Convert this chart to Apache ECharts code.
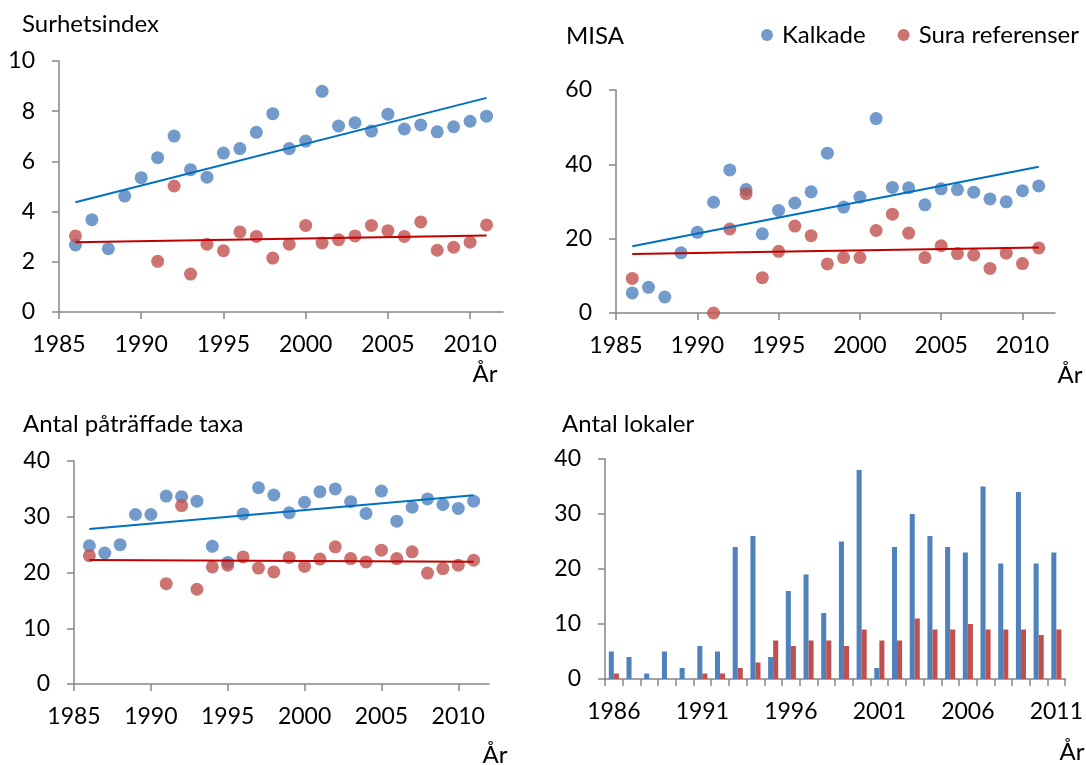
<!DOCTYPE html>
<html><head><meta charset="utf-8">
<script src="https://cdn.jsdelivr.net/npm/echarts@6/dist/echarts.min.js"></script>
<style>html,body{margin:0;padding:0;background:#fff}#c{width:1086px;height:765px}</style>
</head><body><div id="c"></div>
<script>
// ---- data ----
const years = [1986,1987,1988,1989,1990,1991,1992,1993,1994,1995,1996,1997,1998,1999,2000,2001,2002,2003,2004,2005,2006,2007,2008,2009,2010,2011];
const surhetKalkade = [2.67,3.68,2.52,4.62,5.35,6.15,7.01,5.67,5.37,6.33,6.51,7.16,7.9,6.51,6.81,8.79,7.41,7.54,7.21,7.88,7.29,7.45,7.18,7.38,7.6,7.8];
const surhetSura    = [3.03,null,null,null,null,2.02,5.02,1.51,2.7,2.44,3.19,3.01,2.15,2.7,3.45,2.75,2.88,3.03,3.45,3.24,3.01,3.59,2.46,2.58,2.78,3.47];
const misaKalkade = [5.4,6.9,4.3,16.2,21.7,29.8,38.5,33.2,21.3,27.6,29.6,32.6,43.0,28.5,31.2,52.3,33.8,33.7,29.1,33.4,33.2,32.5,30.7,29.9,32.9,34.2];
const misaSura    = [9.3,null,null,null,null,0,22.6,32.1,9.5,16.6,23.4,20.8,13.2,14.9,14.9,22.2,26.6,21.5,14.9,18.1,16.0,15.6,12.0,16.1,13.3,17.5];
const taxaKalkade = [24.8,23.5,25.0,30.4,30.4,33.7,33.6,32.8,24.7,21.8,30.5,35.2,33.9,30.7,32.6,34.5,35.0,32.7,30.6,34.6,29.2,31.7,33.2,32.2,31.5,32.8];
const taxaSura    = [23.0,null,null,null,null,18.0,32.0,17.0,21.0,21.3,22.8,20.8,20.1,22.7,21.1,22.4,24.6,22.5,21.9,24.0,22.5,23.7,19.9,20.7,21.3,22.2];
const lokalerKalkade = [5,4,1,5,2,6,5,24,26,4,16,19,12,25,38,2,24,30,26,24,23,35,21,34,21,23];
const lokalerSura    = [1,0,0,0,0,1,1,2,3,7,6,7,7,6,9,7,7,11,9,9,10,9,9,9,8,9];
const xTickLabels = [1985,1990,1995,2000,2005,2010];
const titles = ['Surhetsindex','MISA','Antal påträffade taxa','Antal lokaler'];
const seriesNames = ['Kalkade','Sura referenser'];
const axisName = 'År';

// ---- helpers ----
const FONT = 'Lato';
const BLUE = '#4F81BD', RED = '#C0504D', TBLUE = '#0070C0', TRED = '#C00000', AX = '#868686';
function pairs(v){ return years.map((y,i)=> v[i]==null?null:[y,v[i]]).filter(Boolean); }
function trend(v){
  const p = pairs(v); const n = p.length;
  const mx = p.reduce((s,q)=>s+q[0],0)/n, my = p.reduce((s,q)=>s+q[1],0)/n;
  let sxy=0,sxx=0; p.forEach(q=>{sxy+=(q[0]-mx)*(q[1]-my); sxx+=(q[0]-mx)*(q[0]-mx);});
  const b=sxy/sxx, a=my-b*mx;
  const x0=years[0], x1=years[years.length-1];
  return [[x0,a+b*x0],[x1,a+b*x1]];
}
const lbl = {fontFamily:FONT,fontSize:23,color:'#000'};
const TXT = '24px ' + FONT;
const axLine = {show:true,onZero:false,lineStyle:{color:AX,width:1.5}};
function xVal(g){
  return {type:'value',gridIndex:g,min:1985,max:2012,interval:5,axisLine:axLine,
    axisTick:{show:true,length:7,customValues:xTickLabels,lineStyle:{color:AX,width:1.5}},
    axisLabel:Object.assign({customValues:xTickLabels,margin:21,formatter:v=>String(v)},lbl),splitLine:{show:false}};
}
function yVal(g,max,interval){
  return {type:'value',gridIndex:g,min:0,max:max,interval:interval,axisLine:axLine,
    axisTick:{show:true,length:7,lineStyle:{color:AX,width:1.5}},
    axisLabel:Object.assign({margin:24},lbl),splitLine:{show:false}};
}
function scat(name,g,v,color){
  return {type:'scatter',name:name,xAxisIndex:g,yAxisIndex:g,data:pairs(v),symbolSize:13,itemStyle:{color:color},z:3};
}
function tline(g,v,color){
  return {type:'line',name:'trend',xAxisIndex:g,yAxisIndex:g,data:trend(v),symbol:'none',lineStyle:{color:color,width:2},silent:true,z:4};
}

const option = {
  animation:false,
  backgroundColor:'#fff',
  textStyle:{fontFamily:FONT},
  grid:[
    {left:59,top:61,width:444,height:251},
    {left:616,top:90,width:439,height:223},
    {left:74,top:461,width:415,height:223},
    {left:605,top:459,width:462,height:220}
  ],
  legend:{data:seriesNames,icon:'circle',itemWidth:12,itemHeight:12,itemGap:32,left:761,top:23,padding:0,
    textStyle:{fontFamily:FONT,fontSize:24,color:'#000',padding:[0,0,0,4]},selectedMode:false},
  xAxis:[xVal(0),xVal(1),xVal(2),
    {type:'category',gridIndex:3,data:years.map(String),axisLine:axLine,
      axisTick:{show:true,length:7,interval:0,lineStyle:{color:AX,width:1.5}},
      axisLabel:Object.assign({interval:4,margin:21},lbl),splitLine:{show:false}}],
  yAxis:[yVal(0,10,2),yVal(1,60,20),yVal(2,40,10),yVal(3,40,10)],
  series:[
    scat(seriesNames[0],0,surhetKalkade,BLUE), scat(seriesNames[1],0,surhetSura,RED),
    tline(0,surhetKalkade,TBLUE), tline(0,surhetSura,TRED),
    scat(seriesNames[0],1,misaKalkade,BLUE), scat(seriesNames[1],1,misaSura,RED),
    tline(1,misaKalkade,TBLUE), tline(1,misaSura,TRED),
    scat(seriesNames[0],2,taxaKalkade,BLUE), scat(seriesNames[1],2,taxaSura,RED),
    tline(2,taxaKalkade,TBLUE), tline(2,taxaSura,TRED),
    {type:'bar',name:seriesNames[0],xAxisIndex:3,yAxisIndex:3,data:lokalerKalkade,itemStyle:{color:BLUE},barGap:'0%',barCategoryGap:'43%'},
    {type:'bar',name:seriesNames[1],xAxisIndex:3,yAxisIndex:3,data:lokalerSura,itemStyle:{color:RED},barGap:'0%',barCategoryGap:'43%'}
  ],
  graphic:[
    {type:'text',x:22,y:24,style:{text:titles[0],font:TXT,fill:'#000',verticalAlign:'middle'}},
    {type:'text',x:566,y:36,style:{text:titles[1],font:TXT,fill:'#000',verticalAlign:'middle'}},
    {type:'text',x:23,y:424,style:{text:titles[2],font:TXT,fill:'#000',verticalAlign:'middle'}},
    {type:'text',x:562,y:424,style:{text:titles[3],font:TXT,fill:'#000',verticalAlign:'middle'}},
    {type:'text',x:485,y:374,style:{text:axisName,font:TXT,fill:'#000',align:'center',verticalAlign:'middle'}},
    {type:'text',x:1070,y:375,style:{text:axisName,font:TXT,fill:'#000',align:'center',verticalAlign:'middle'}},
    {type:'text',x:495,y:755,style:{text:axisName,font:TXT,fill:'#000',align:'center',verticalAlign:'middle'}},
    {type:'text',x:1072,y:752,style:{text:axisName,font:TXT,fill:'#000',align:'center',verticalAlign:'middle'}}
  ]
};
echarts.init(document.getElementById('c'),null,{renderer:'canvas'}).setOption(option);
</script>
</body></html>
